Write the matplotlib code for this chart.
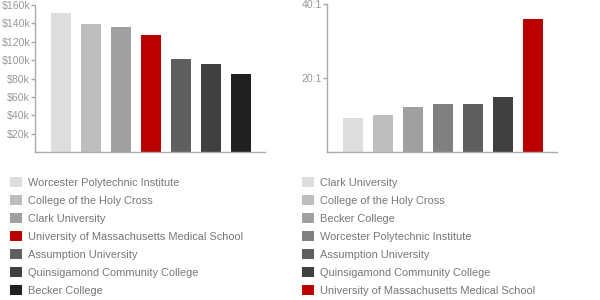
import matplotlib.pyplot as plt
from matplotlib.ticker import FuncFormatter

# left chart: salary
salary_schools = ['Worcester Polytechnic Institute', 'College of the Holy Cross', 'Clark University',
                  'University of Massachusetts Medical School', 'Assumption University',
                  'Quinsigamond Community College', 'Becker College']
salary_values = [151.6, 139.3, 136.0, 127.3, 101.2, 95.4, 84.9]
salary_colors = ['#dddddd', '#bebebe', '#a0a0a0', '#bb0000', '#5f5f5f', '#404040', '#202020']

# right chart: student/faculty ratio
ratio_schools = ['Clark University', 'College of the Holy Cross', 'Becker College',
                 'Worcester Polytechnic Institute', 'Assumption University',
                 'Quinsigamond Community College', 'University of Massachusetts Medical School']
ratio_values = [9.2, 10.1, 12.2, 13.1, 13.1, 15.0, 36.1]
ratio_colors = ['#dddddd', '#bebebe', '#a0a0a0', '#808080', '#5f5f5f', '#404040', '#bb0000']

plt.rcParams['font.family'] = ['Liberation Sans', 'DejaVu Sans']

W, H = 600, 300
fig = plt.figure(figsize=(6, 3), dpi=100)

axis_color = '#aaaaaa'
tick_text = '#999999'
legend_text = '#777777'


def make_panel(px_left, px_top, px_right, px_bottom, names, values, colors, ymax, yticks, fmt, legend_x):
    ax = fig.add_axes([px_left / W, 1 - px_bottom / H, (px_right - px_left) / W, (px_bottom - px_top) / H])
    xs = range(len(values))
    bars = ax.bar(xs, values, width=0.667, color=colors, label=names)
    ax.set_xlim(-0.87, 6.8)
    ax.set_ylim(0, ymax)
    ax.set_yticks(yticks)
    ax.yaxis.set_major_formatter(FuncFormatter(fmt))
    ax.set_xticks([])
    for s in ['top', 'right']:
        ax.spines[s].set_visible(False)
    for s in ['left', 'bottom']:
        ax.spines[s].set_color(axis_color)
        ax.spines[s].set_linewidth(1)
    ax.tick_params(axis='y', colors=axis_color, labelcolor=tick_text, labelsize=7.6,
                   length=3, width=1, pad=0.5)
    ax.legend(bars, names, loc='upper left', bbox_to_anchor=(legend_x / W, 1 - 177 / H),
              bbox_transform=fig.transFigure, frameon=False, fontsize=7.9, labelcolor=legend_text,
              handlelength=1.05, handleheight=1.05, handletextpad=0.55, labelspacing=0.65,
              borderpad=0, borderaxespad=0)
    return ax


make_panel(35, 5, 265, 152, salary_schools, salary_values, salary_colors, 160,
           [20, 40, 60, 80, 100, 120, 140, 160], lambda v, p: f'${int(v)}k', 10)
make_panel(327, 4.3, 557, 152.3, ratio_schools, ratio_values, ratio_colors, 40,
           [20, 40], lambda v, p: f'{int(v)}:1', 302)

fig.savefig('out.png', dpi=100)
